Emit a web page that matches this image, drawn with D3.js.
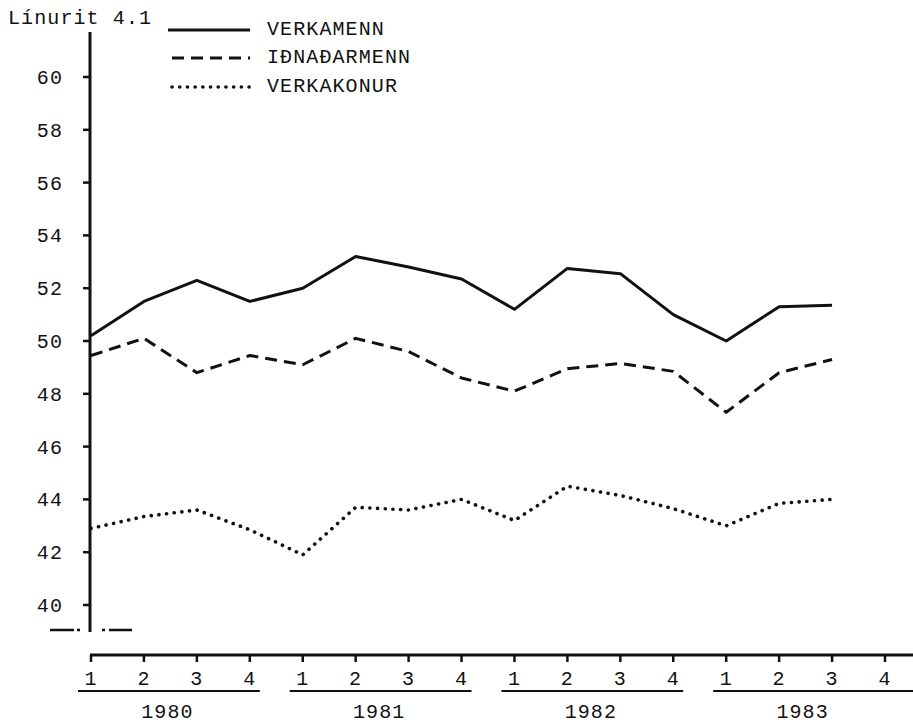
<!DOCTYPE html>
<html>
<head>
<meta charset="utf-8">
<script src="https://cdn.jsdelivr.net/npm/d3@7"></script>
<style>
  body { margin: 0; background: #fff; }
  text { font-family: "Liberation Mono", "DejaVu Sans Mono", monospace; fill: #111; font-size: 20px; letter-spacing: 1.1px; }
</style>
</head>
<body>
<svg id="chart"></svg>
<script>
// Values (quarters 1980 Q1 .. 1983 Q3)
const years = ["1980", "1981", "1982", "1983"];
const quarters = ["1", "2", "3", "4"];
const yTicks = [40, 42, 44, 46, 48, 50, 52, 54, 56, 58, 60];
const seriesNames = ["VERKAMENN", "IÐNAÐARMENN", "VERKAKONUR"];
const verkamenn = [50.2, 51.5, 52.3, 51.5, 52.0, 53.2, 52.8, 52.35, 51.2, 52.75, 52.55, 51.0, 50.0, 51.3, 51.35];
const idnadarmenn = [49.45, 50.1, 48.8, 49.45, 49.1, 50.1, 49.6, 48.6, 48.1, 48.95, 49.15, 48.85, 47.3, 48.8, 49.3];
const verkakonur = [42.9, 43.35, 43.6, 42.85, 41.9, 43.7, 43.6, 44.0, 43.2, 44.5, 44.15, 43.65, 43.0, 43.85, 44.0];

const width = 913;
const height = 723;

const svg = d3.select("#chart")
    .attr("width", width)
    .attr("height", height);

// Scales
const x = d3.scaleLinear().domain([0, 15]).range([91, 885]);
const y = d3.scaleLinear().domain([40, 60]).range([605, 77]);

const axisX = 90;
const baseY = 655;

// Title
svg.append("text")
    .attr("x", 8)
    .attr("y", 24)
    .text("Línurit 4.1");

// Y axis line (extends below 40 to the break mark)
svg.append("line")
    .attr("x1", axisX).attr("x2", axisX)
    .attr("y1", 32).attr("y2", 632)
    .attr("stroke", "#111")
    .attr("stroke-width", 3);

// Y ticks and labels
const yg = svg.append("g");
yg.selectAll("line")
    .data(yTicks)
    .enter()
    .append("line")
    .attr("x1", 83).attr("x2", axisX)
    .attr("y1", d => y(d)).attr("y2", d => y(d))
    .attr("stroke", "#111")
    .attr("stroke-width", 2.5);
yg.selectAll("text")
    .data(yTicks)
    .enter()
    .append("text")
    .attr("x", 63)
    .attr("y", d => y(d))
    .attr("dy", "0.35em")
    .attr("text-anchor", "end")
    .text(d => d);

// Axis break mark: dash . | . dash
svg.append("line")
    .attr("x1", 50).attr("x2", 132)
    .attr("y1", 630).attr("y2", 630)
    .attr("stroke", "#111")
    .attr("stroke-width", 2.5)
    .attr("stroke-dasharray", "24 3 3 22 3 4 23");

// X axis
svg.append("line")
    .attr("x1", axisX).attr("x2", width)
    .attr("y1", baseY).attr("y2", baseY)
    .attr("stroke", "#111")
    .attr("stroke-width", 3);

const quarterIdx = d3.range(16);
svg.append("g").selectAll("line")
    .data(quarterIdx)
    .enter()
    .append("line")
    .attr("x1", d => x(d)).attr("x2", d => x(d))
    .attr("y1", baseY).attr("y2", baseY + 7)
    .attr("stroke", "#111")
    .attr("stroke-width", 2.5);

svg.append("g").selectAll("text")
    .data(quarterIdx)
    .enter()
    .append("text")
    .attr("x", d => x(d))
    .attr("y", 678)
    .attr("dy", "0.35em")
    .attr("text-anchor", "middle")
    .text(d => quarters[d % 4]);

// Year underlines and labels
const yearG = svg.append("g").selectAll("g")
    .data(years)
    .enter()
    .append("g");
yearG.append("line")
    .attr("x1", (d, i) => x(i * 4) - 13)
    .attr("x2", (d, i) => i === years.length - 1 ? width : x(i * 4 + 3) + 10)
    .attr("y1", 691).attr("y2", 691)
    .attr("stroke", "#111")
    .attr("stroke-width", 1.8);
yearG.append("text")
    .attr("x", (d, i) => (x(i * 4) + x(i * 4 + 3)) / 2 - 3)
    .attr("y", 711)
    .attr("dy", "0.35em")
    .attr("text-anchor", "middle")
    .text(d => d);

// Series lines
const line = d3.line()
    .x((d, i) => x(i))
    .y(d => y(d));

const styles = [
    { data: verkamenn, dash: null, cap: "butt" },
    { data: idnadarmenn, dash: "12 7", cap: "butt" },
    { data: verkakonur, dash: "0.1 7.6", cap: "round" }
];

styles.forEach(s => {
    svg.append("path")
        .datum(s.data)
        .attr("d", line)
        .attr("fill", "none")
        .attr("stroke", "#111")
        .attr("stroke-width", s.cap === "round" ? 3.6 : 3)
        .attr("stroke-linejoin", "round")
        .attr("stroke-linecap", s.cap)
        .attr("stroke-dasharray", s.dash);
});

// Legend
const legendY = [30, 58, 87];
const lg = svg.append("g").selectAll("g")
    .data(seriesNames)
    .enter()
    .append("g");
lg.append("line")
    .attr("x1", (d, i) => i === 0 ? 168 : 172)
    .attr("x2", 250)
    .attr("y1", (d, i) => legendY[i])
    .attr("y2", (d, i) => legendY[i])
    .attr("stroke", "#111")
    .attr("stroke-width", (d, i) => i === 2 ? 3.6 : 3)
    .attr("stroke-linecap", (d, i) => i === 2 ? "round" : "butt")
    .attr("stroke-dasharray", (d, i) => styles[i].dash);
lg.append("text")
    .attr("x", 267)
    .attr("y", (d, i) => legendY[i] - 2)
    .attr("dy", "0.35em")
    .text(d => d);
</script>
</body>
</html>
